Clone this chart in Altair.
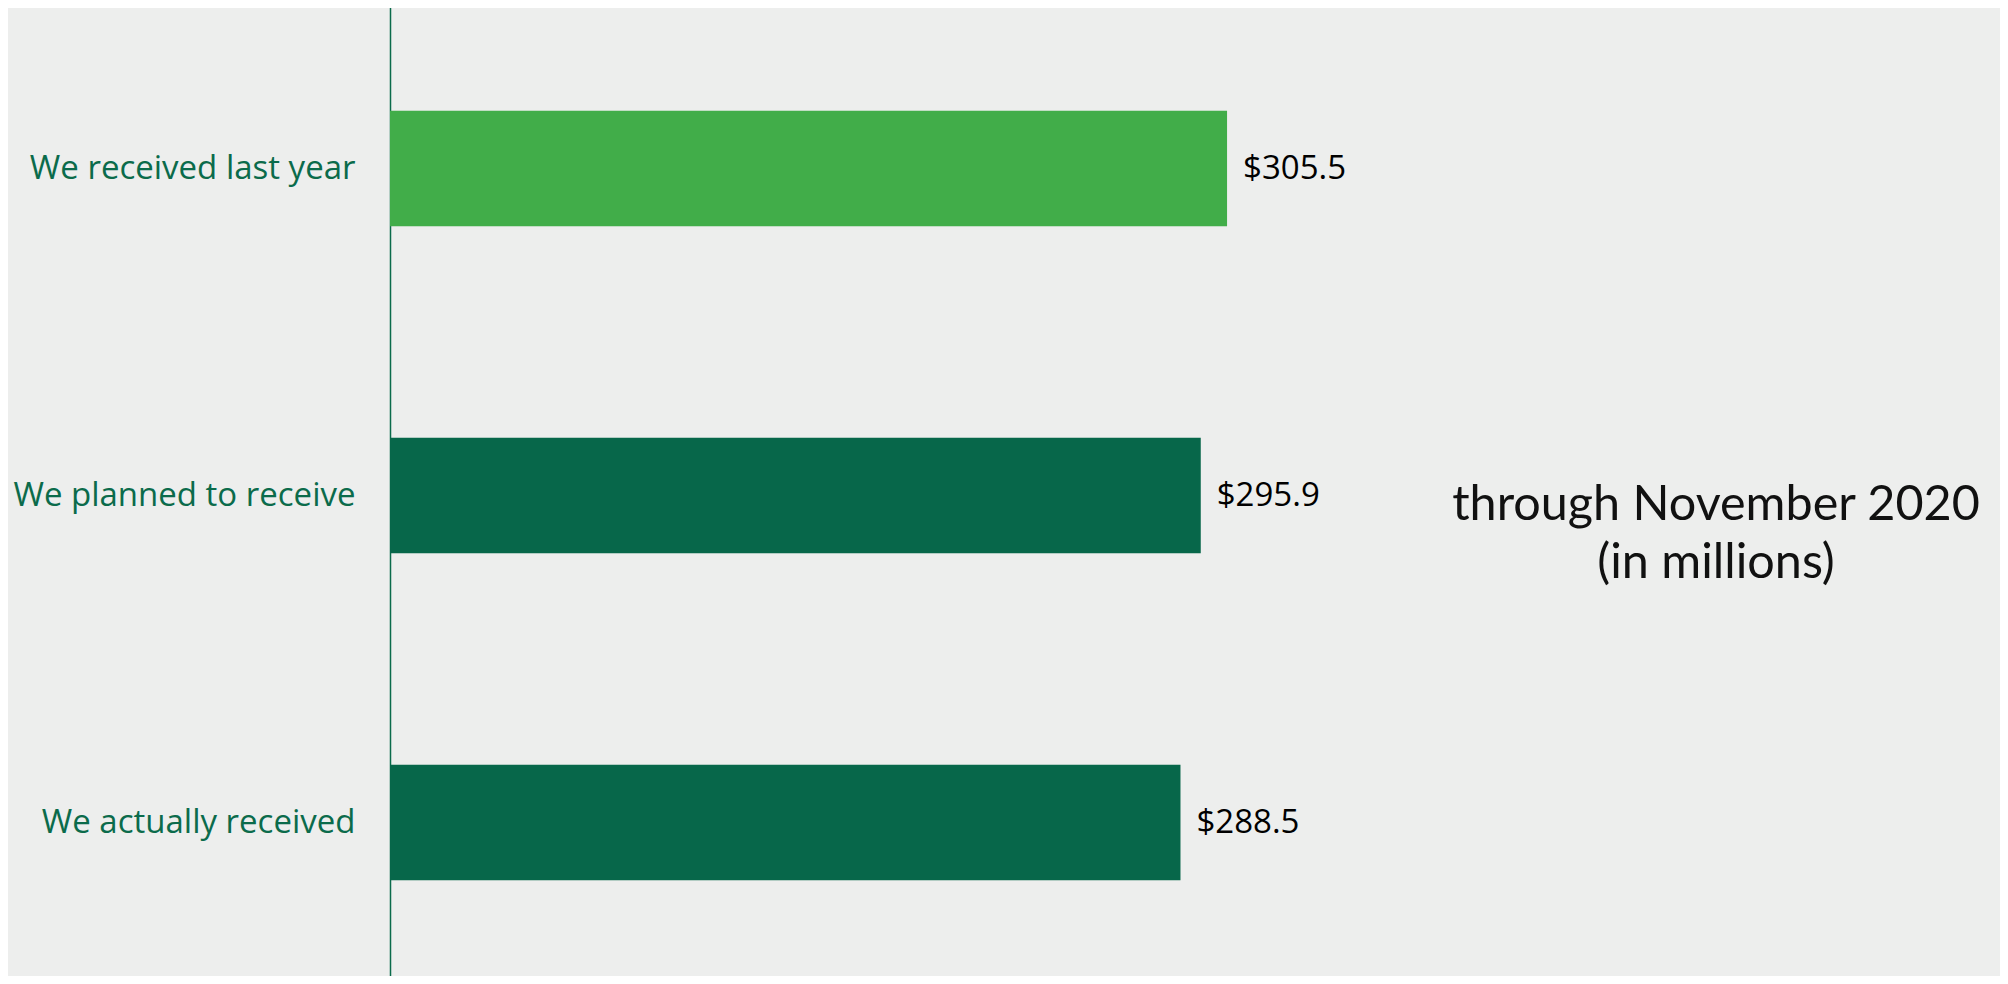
import altair as alt
import pandas as pd

categories = ["We received last year", "We planned to receive", "We actually received"]
values = [305.5, 295.9, 288.5]
value_labels = ["$305.5", "$295.9", "$288.5"]
bar_colors = ["#41AD49", "#07674A", "#07674A"]
note_lines = ["through November 2020", "(in millions)"]

df = pd.DataFrame({"category": categories, "value": values,
                   "label": value_labels, "color": bar_colors})

y = alt.Y("category:N", sort=categories, title=None,
          scale=alt.Scale(range=[-3, 978], paddingInner=0.647, paddingOuter=0.3235),
          axis=alt.Axis(domainColor="#0B6B4B", domainWidth=1.5, ticks=False,
                        labelPadding=35, labelFont="Open Sans", labelFontSize=33,
                        labelColor="#0B6B4B", labelLimit=600, grid=False))
x = alt.X("value:Q", scale=alt.Scale(domain=[0, 587.6], nice=False, zero=True), axis=None)

base = alt.Chart(df)
bars = base.mark_bar().encode(x=x, y=y, color=alt.Color("color:N", scale=None))
labels = base.mark_text(align="left", baseline="middle", dx=16, font="Open Sans",
                        fontSize=33, color="#000000").encode(x=x, y=y, text="label:N")

note = alt.Chart(pd.DataFrame({"k": [0]})).mark_text(
    align="center", baseline="middle", font="Lato", fontSize=48.5,
    lineHeight=58, color="#111111"
).encode(x=alt.value(1326), y=alt.value(497), text=alt.value(note_lines))

chart = alt.layer(bars, labels, note).properties(
    width=1610, height=968,
    autosize=alt.AutoSizeParams(type="none"),
    padding={"left": 382, "top": 0, "right": 0, "bottom": 0},
    background="#EDEEED",
).configure_view(stroke=None)

chart.save("out.html", embed_options={"renderer": "svg", "actions": False})
